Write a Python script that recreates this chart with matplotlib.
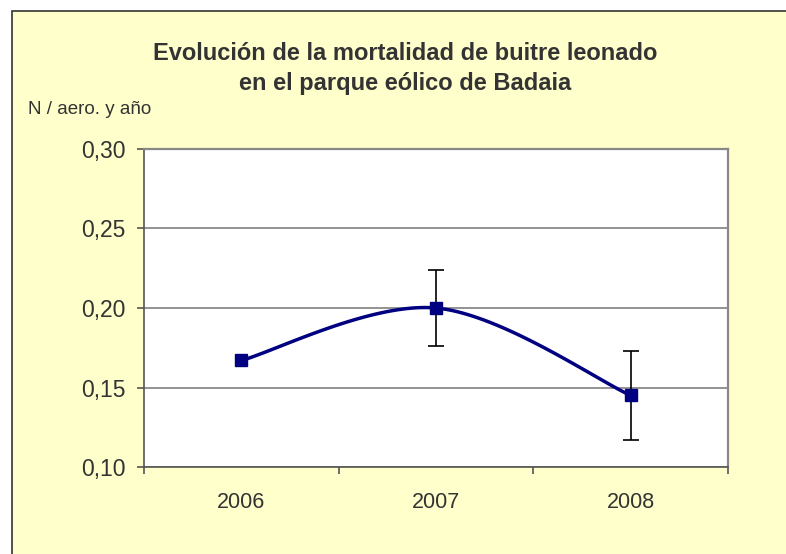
import numpy as np
import matplotlib.pyplot as plt
from matplotlib.patches import Rectangle

plt.rcParams['font.family'] = ['Liberation Sans', 'DejaVu Sans']

years = ['2006', '2007', '2008']
mortality = [0.167, 0.200, 0.145]
error = [0.0, 0.024, 0.028]

W, H = 786, 554


def smooth(y, n=40):
    """Catmull-Rom style smoothing like Excel's smoothed line."""
    x = np.arange(len(y), dtype=float)
    pts = np.column_stack([x, y])
    pts = np.vstack([pts[0], pts, pts[-1]])
    out = []
    for i in range(1, len(pts) - 2):
        p0, p1, p2, p3 = pts[i - 1], pts[i], pts[i + 1], pts[i + 2]
        t = np.linspace(0, 1, n)[:, None]
        seg = 0.5 * ((2 * p1) + (-p0 + p2) * t
                     + (2 * p0 - 5 * p1 + 4 * p2 - p3) * t ** 2
                     + (-p0 + 3 * p1 - 3 * p2 + p3) * t ** 3)
        out.append(seg)
    out = np.vstack(out)
    return out[:, 0], out[:, 1]


fig = plt.figure(figsize=(W / 100, H / 100), dpi=100, facecolor='white')
fig.patches.append(Rectangle((12 / W, -0.05), 1.1, 1 - 11 / H + 0.05,
                             transform=fig.transFigure, facecolor='#FFFFCC',
                             edgecolor='#333333', linewidth=1.2, zorder=-10))

ax = fig.add_axes([144 / W, 1 - 467 / H, (728 - 144) / W, (467 - 149) / H])
ax.set_facecolor('white')

xs, ys = smooth(mortality)
ax.plot(xs, ys, color='#000080', linewidth=2.5, zorder=3)
x = np.arange(len(years))
has_err = np.array(error) > 0
ax.errorbar(x[has_err], np.array(mortality)[has_err],
            yerr=np.array(error)[has_err], fmt='none', ecolor='black',
            elinewidth=1.2, capsize=6, capthick=1.2, zorder=4)
ax.plot(x, mortality, 's', color='#000080', markersize=8, zorder=5)

ax.set_xlim(-0.5, 2.5)
ax.set_ylim(0.10, 0.30)
ax.set_yticks([0.10, 0.15, 0.20, 0.25, 0.30])
ax.set_yticklabels(['0,10', '0,15', '0,20', '0,25', '0,30'])
ax.set_xticks(x)
ax.set_xticklabels(years)
ax.set_xticks([-0.5, 0.5, 1.5, 2.5], minor=True)
ax.tick_params(axis='x', which='major', length=0, pad=18, labelsize=15.5)
ax.tick_params(axis='x', which='minor', length=5, color='#555555', width=1.2)
ax.tick_params(axis='y', length=5, color='#555555', width=1.2, pad=8.5,
               labelsize=16.5)
ax.tick_params(labelcolor='#333333')
ax.yaxis.grid(True, color='#808080', linewidth=1.2)
ax.set_axisbelow(True)
for side in ['top', 'right']:
    ax.spines[side].set_color('#888888')
    ax.spines[side].set_linewidth(1.6)
for side in ['left', 'bottom']:
    ax.spines[side].set_color('#555555')
    ax.spines[side].set_linewidth(1.2)

fig.text(405 / W, 1 - 53 / H, 'Evolución de la mortalidad de buitre leonado',
         ha='center', va='center', fontsize=17, fontweight='bold', color='#333333')
fig.text(405 / W, 1 - 84 / H, 'en el parque eólico de Badaia',
         ha='center', va='center', fontsize=17, fontweight='bold', color='#333333')
fig.text(28 / W, 1 - 110 / H, 'N / aero. y año', ha='left', va='center',
         fontsize=13.5, color='#333333')

fig.savefig('out.png', dpi=100, facecolor=fig.get_facecolor())
